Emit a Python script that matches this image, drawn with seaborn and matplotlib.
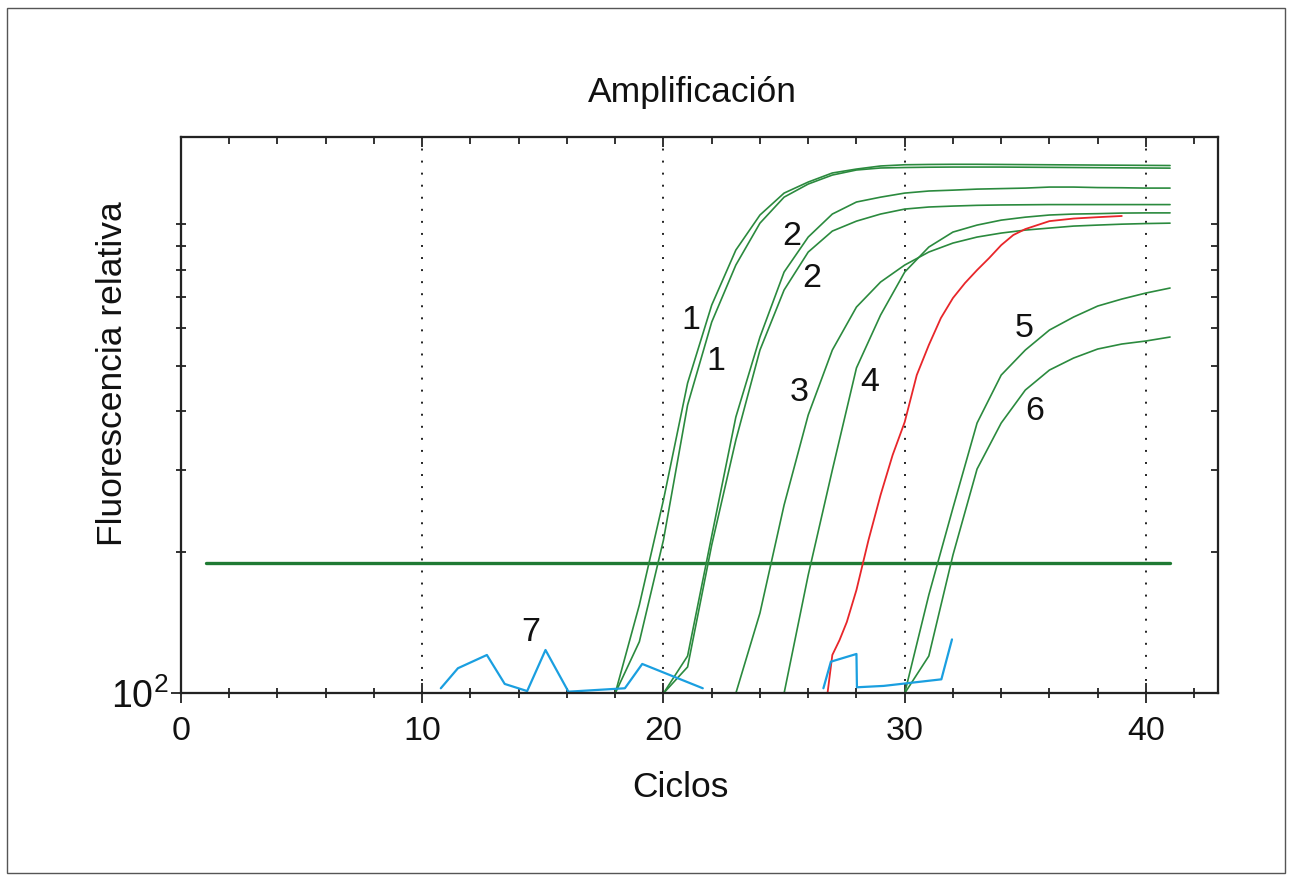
import matplotlib
matplotlib.use("Agg")
import matplotlib.pyplot as plt
import seaborn as sns
from matplotlib.ticker import MultipleLocator, FixedLocator, NullFormatter, FixedFormatter
from matplotlib.patches import Rectangle

# ---------------- data ----------------
cycles_1 = list(range(18, 42))
curve_1a = [100, 154.3, 258.4, 458.7, 672.8, 881.5, 1047, 1166, 1231, 1287, 1312, 1332,
            1340, 1342, 1343, 1343, 1342, 1341, 1340, 1339, 1338, 1337, 1336, 1335]
curve_1b = [100, 128.8, 212.3, 411.9, 619, 818.9, 1006, 1143, 1219, 1274, 1306, 1319,
            1322, 1324, 1325, 1325, 1325, 1324, 1323, 1322, 1321, 1320, 1319, 1318]

cycles_2 = list(range(20, 42))
curve_2a = [100, 120.1, 216.5, 388.2, 575.1, 791.2, 939.6, 1052, 1116, 1143, 1166, 1178,
            1183, 1189, 1192, 1195, 1201, 1201, 1198, 1197, 1195, 1195]
curve_2b = [100, 113.8, 207.1, 346.7, 539.5, 724.4, 872.9, 967.6, 1016, 1052, 1078, 1089,
            1094, 1098, 1100, 1101, 1102, 1102, 1102, 1102, 1102, 1102]

cycles_3 = list(range(23, 42))
curve_3 = [100, 148.3, 252.0, 392.1, 539.5, 666.3, 753.4, 818.9, 873, 912.3, 939.6, 958.2,
           972.3, 982, 991.6, 996.5, 1001, 1004, 1006]

cycles_4 = list(range(25, 42))
curve_4 = [100, 178.7, 299.3, 494.1, 640.6, 791.2, 894.6, 962.9, 996.5, 1021, 1036, 1047,
           1052, 1054, 1057, 1058, 1058]

cycles_56 = list(range(30, 42))
curve_5 = [100, 162.1, 248.4, 377, 477.1, 539.5, 595.2, 634.4, 669.6, 693, 713.8, 731.5]
curve_6 = [100, 120.1, 197.2, 300.8, 377, 443.3, 489, 518.7, 542.2, 555.7, 564, 575.1]

red_cycles = [26.8, 27.0, 27.3, 27.6, 28.0, 28.5, 29.0, 29.5, 30.0, 30.5, 31.0, 31.5,
              32.0, 32.5, 33.0, 33.5, 34.0, 34.5, 35.0, 35.5, 36.0, 37.0, 38.0, 39.0]
red_values = [100, 120.7, 129.9, 141.9, 166.1, 212.3, 264.8, 322.2, 378.8, 477.1, 552.9, 631.3,
              696.5, 749.8, 799, 847.5, 903, 948.9, 977.2, 996.5, 1016, 1029, 1036, 1042]

blue_cycles_a = [10.77, 11.48, 12.68, 13.42, 14.35, 15.11, 16.06, 18.40, 19.12, 21.63]
blue_values_a = [102.5, 113.1, 120.7, 104.7, 101.1, 123.7, 100.8, 102.5, 115.5, 102.5]
blue_cycles_b = [26.63, 26.94, 28.0, 28.02, 29.13, 31.52, 31.96]
blue_values_b = [102.5, 116.8, 121.3, 103.0, 103.7, 107.1, 130.3]

threshold_span = [1.04, 41.0]
threshold_value = 189.6

label_text = ["7", "1", "1", "2", "2", "3", "4", "5", "6"]
label_x = [14.5, 21.15, 22.19, 25.3, 26.13, 25.63, 28.54, 34.94, 35.4]
label_y = [134.5, 625, 509, 944, 768, 439, 459, 601, 398]

x_grid = [10, 20, 30, 40]
y_minor_ticks = [200, 300, 400, 500, 600, 700, 800, 900, 1000]

# ---------------- style ----------------
sns.set_theme(style="white")
plt.rcParams["font.family"] = ["Liberation Sans", "DejaVu Sans"]
plt.rcParams["mathtext.default"] = "regular"

GREEN = "#2b8a3e"
GREEN_T = "#1f7a33"
RED = "#e8262a"
BLUE = "#1a9fe0"
INK = "#222222"

fig = plt.figure(figsize=(12.9, 8.77), dpi=100)
ax = fig.add_axes([181 / 1290, (877 - 693.3) / 877, (1218.3 - 181) / 1290, (693.3 - 136.7) / 877])
ax.set_yscale("log")
ax.set_xlim(0, 43)
ax.set_ylim(100, 1538)

for xv in x_grid:
    ax.axvline(xv, color="#222222", lw=1.4, ls=(0, (1, 5.2)), zorder=0.5)

kw = dict(ax=ax, estimator=None, sort=False, legend=False)
sns.lineplot(x=threshold_span, y=[threshold_value, threshold_value], color=GREEN_T, lw=2.4, **kw)
for xs, ys in [(cycles_1, curve_1a), (cycles_1, curve_1b), (cycles_2, curve_2a),
               (cycles_2, curve_2b), (cycles_3, curve_3), (cycles_4, curve_4),
               (cycles_56, curve_5), (cycles_56, curve_6)]:
    sns.lineplot(x=xs, y=ys, color=GREEN, lw=1.2, **kw)
sns.lineplot(x=red_cycles, y=red_values, color=RED, lw=1.3, **kw)
sns.lineplot(x=blue_cycles_a, y=blue_values_a, color=BLUE, lw=1.6, **kw)
sns.lineplot(x=blue_cycles_b, y=blue_values_b, color=BLUE, lw=1.6, **kw)

for t, lx, ly in zip(label_text, label_x, label_y):
    ax.text(lx, ly, t, fontsize=24.5, ha="center", va="center", color="#111111")

# ticks
ax.xaxis.set_major_locator(MultipleLocator(10))
ax.xaxis.set_minor_locator(MultipleLocator(2))
ax.yaxis.set_major_locator(FixedLocator([100]))
ax.yaxis.set_major_formatter(FixedFormatter([r"$10^2$"]))
ax.yaxis.set_minor_locator(FixedLocator(y_minor_ticks))
ax.yaxis.set_minor_formatter(NullFormatter())
ax.tick_params(which="major", direction="inout", length=14, width=1.3, color=INK,
               labelcolor="#111111")
ax.tick_params(axis="x", which="major", labelsize=24.5, pad=9)
ax.tick_params(axis="y", which="major", labelsize=27, pad=2)
ax.tick_params(which="minor", direction="inout", length=7, width=1.3, color=INK)

axt = ax.twiny()
axt.set_xlim(0, 43)
axt.xaxis.set_major_locator(MultipleLocator(10))
axt.xaxis.set_minor_locator(MultipleLocator(2))
axt.tick_params(which="major", direction="in", length=7, width=1.3, color=INK, labeltop=False)
axt.tick_params(which="minor", direction="in", length=5, width=1.3, color=INK)

axr = ax.twinx()
axr.set_yscale("log")
axr.set_ylim(100, 1538)
axr.yaxis.set_major_locator(FixedLocator([100]))
axr.yaxis.set_minor_locator(FixedLocator(y_minor_ticks))
axr.yaxis.set_minor_formatter(NullFormatter())
axr.tick_params(which="both", direction="in", length=5, width=1.3, color=INK, labelright=False)

for a in (ax, axt, axr):
    for s in a.spines.values():
        s.set_linewidth(1.5)
        s.set_color(INK)

ax.set_xlabel("Ciclos", fontsize=25.5, color="#111111")
ax.xaxis.set_label_coords(0.4812, -0.1396)
ax.set_ylabel("Fluorescencia relativa", fontsize=25.5, color="#111111")
ax.yaxis.set_label_coords(-0.0506, 0.575)
ax.set_title("Amplificación", fontsize=25.5, color="#111111", x=0.4928, y=1.0623, pad=0)

fig.patches.append(Rectangle((0.0054, 0.004), 0.9907, 0.987, transform=fig.transFigure,
                             fill=False, lw=1.0, edgecolor="#555555"))

fig.savefig("out.png", dpi=100)
